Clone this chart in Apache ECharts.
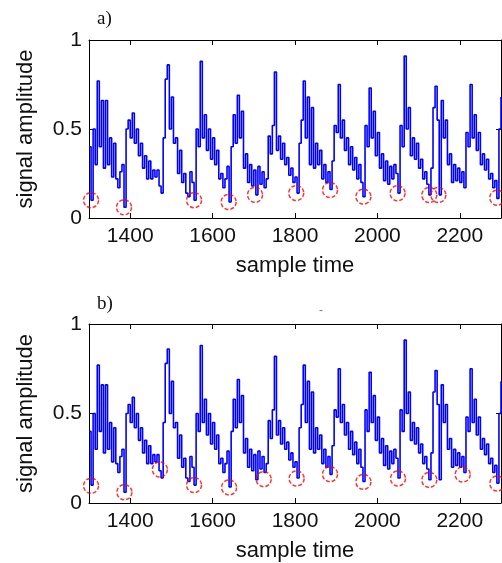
<!DOCTYPE html>
<html><head><meta charset="utf-8">
<script src="https://cdn.jsdelivr.net/npm/echarts@6/dist/echarts.min.js"></script>
<style>html,body{margin:0;padding:0;background:#fff}#c{width:502px;height:563px}</style>
</head><body><div id="c"></div>
<script>
// sample times start at 1300, one value every 5 samples
const sampleStart = 1300;
const sampleStep = 5;
const amplitude = [
0.40,0.10,0.50,0.30,0.77,0.40,0.66,0.28,0.66,0.30,
0.45,0.23,0.42,0.22,0.17,0.26,0.30,0.06,0.50,0.55,
0.45,0.59,0.42,0.50,0.35,0.42,0.28,0.35,0.22,0.32,
0.22,0.27,0.23,0.27,0.18,0.14,0.45,0.78,0.86,0.50,
0.68,0.42,0.45,0.25,0.38,0.20,0.25,0.14,0.12,0.26,
0.20,0.10,0.50,0.40,0.88,0.45,0.58,0.38,0.50,0.33,
0.45,0.30,0.38,0.22,0.25,0.17,0.22,0.29,0.09,0.40,
0.58,0.42,0.69,0.45,0.60,0.28,0.36,0.20,0.30,0.18,
0.27,0.13,0.29,0.19,0.26,0.17,0.22,0.46,0.36,0.52,
0.82,0.38,0.46,0.33,0.42,0.30,0.34,0.24,0.28,0.20,
0.23,0.14,0.42,0.55,0.77,0.45,0.68,0.30,0.62,0.28,
0.42,0.30,0.38,0.22,0.30,0.20,0.26,0.16,0.32,0.52,
0.48,0.75,0.45,0.55,0.38,0.45,0.30,0.40,0.27,0.34,
0.22,0.30,0.20,0.12,0.52,0.40,0.73,0.45,0.60,0.35,
0.48,0.28,0.36,0.21,0.32,0.19,0.29,0.22,0.30,0.25,
0.14,0.52,0.40,0.91,0.50,0.62,0.35,0.45,0.33,0.42,
0.28,0.33,0.22,0.26,0.19,0.13,0.28,0.62,0.74,0.55,
0.13,0.66,0.45,0.55,0.30,0.36,0.20,0.30,0.21,0.28,
0.20,0.26,0.17,0.48,0.40,0.75,0.45,0.58,0.38,0.48,
0.30,0.36,0.27,0.33,0.22,0.25,0.17,0.21,0.11,0.50,
0.68
];
const minimaA_time = [1305,1385,1555,1639,1703,1803,1885,1966,2049,2126,2148,2291];
const minimaA_amp  = [0.10,0.06,0.10,0.09,0.13,0.14,0.157,0.12,0.139,0.129,0.129,0.114];
const minimaB_time = [1305,1386,1472,1555,1640,1724,1804,1885,1966,2050,2126,2207,2291];
const minimaB_amp  = [0.096,0.06,0.187,0.10,0.087,0.133,0.137,0.161,0.118,0.137,0.129,0.159,0.109];
const xTicks = [1400,1600,1800,2000,2200];

const signal = amplitude.map((v,i)=>[sampleStart + i*sampleStep, v]);
const ptsA = minimaA_time.map((t,i)=>[t, minimaA_amp[i]]);
const ptsB = minimaB_time.map((t,i)=>[t, minimaB_amp[i]]);

const FONT = 'Liberation Sans';
const grids = [
  {left:89, top:40, width:412, height:178},
  {left:89, top:324, width:412, height:180}
];
function xAxes(g){
  return [
    {type:'value', gridIndex:g, min:1300, max:2300, position:'bottom',
     name:'sample time', nameLocation:'middle', nameGap:37,
     nameTextStyle:{fontFamily:FONT, fontSize:22, color:'#111'},
     axisLine:{show:true, onZero:false, lineStyle:{color:'#000', width:1}},
     axisTick:{show:true, inside:true, length:5, customValues:xTicks, lineStyle:{color:'#000'}},
     axisLabel:{show:true, customValues:xTicks, margin:8, fontFamily:FONT, fontSize:21, color:'#111',
       formatter:v=>String(v)},
     splitLine:{show:false}},
    {type:'value', gridIndex:g, min:1300, max:2300, position:'top',
     axisLine:{show:true, onZero:false, lineStyle:{color:'#000', width:1}},
     axisTick:{show:true, inside:true, length:5, customValues:xTicks, lineStyle:{color:'#000'}},
     axisLabel:{show:false}, splitLine:{show:false}}
  ];
}
function yAxes(g){
  return [
    {type:'value', gridIndex:g, min:0, max:1, interval:0.5, position:'left',
     name:'signal amplitude', nameLocation:'middle', nameGap:52,
     nameTextStyle:{fontFamily:FONT, fontSize:22, color:'#111'},
     axisLine:{show:true, onZero:false, lineStyle:{color:'#000', width:1}},
     axisTick:{show:true, inside:true, length:5, lineStyle:{color:'#000'}},
     axisLabel:{show:true, margin:7, fontFamily:FONT, fontSize:21, color:'#111',
       formatter:v=>String(v)},
     splitLine:{show:false}},
    {type:'value', gridIndex:g, min:0, max:1, interval:0.5, position:'right',
     axisLine:{show:true, onZero:false, lineStyle:{color:'#000', width:1}},
     axisTick:{show:true, inside:true, length:5, lineStyle:{color:'#000'}},
     axisLabel:{show:false}, splitLine:{show:false}}
  ];
}
const lineSeries = g => ({type:'line', xAxisIndex:g*2, yAxisIndex:g*2, data:signal, step:'end',
  showSymbol:false, symbol:'none', lineStyle:{color:'#0000ff', width:1.6}, animation:false, z:2});
const circSeries = (g,pts) => ({type:'scatter', xAxisIndex:g*2, yAxisIndex:g*2, data:pts,
  symbol:'circle', symbolSize:15,
  itemStyle:{color:'rgba(0,0,0,0)', borderColor:'#ff0000', borderWidth:1.5, borderType:[4,2]},
  animation:false, z:3});

const chart = echarts.init(document.getElementById('c'), null, {renderer:'canvas'});
chart.setOption({
  backgroundColor:'#fff',
  animation:false,
  title:[
    {text:'a)', left:92, top:5, textStyle:{fontFamily:'Liberation Serif', fontSize:19, fontWeight:'normal', color:'#111'}},
    {text:'b)', left:92, top:290, textStyle:{fontFamily:'Liberation Serif', fontSize:19, fontWeight:'normal', color:'#111'}},
    {text:'-', left:314, top:300, textStyle:{fontFamily:FONT, fontSize:12, fontWeight:'normal', color:'#777'}}
  ],
  grid:grids,
  xAxis:[...xAxes(0), ...xAxes(1)],
  yAxis:[...yAxes(0), ...yAxes(1)],
  series:[lineSeries(0), circSeries(0,ptsA), lineSeries(1), circSeries(1,ptsB)]
});
</script></body></html>
